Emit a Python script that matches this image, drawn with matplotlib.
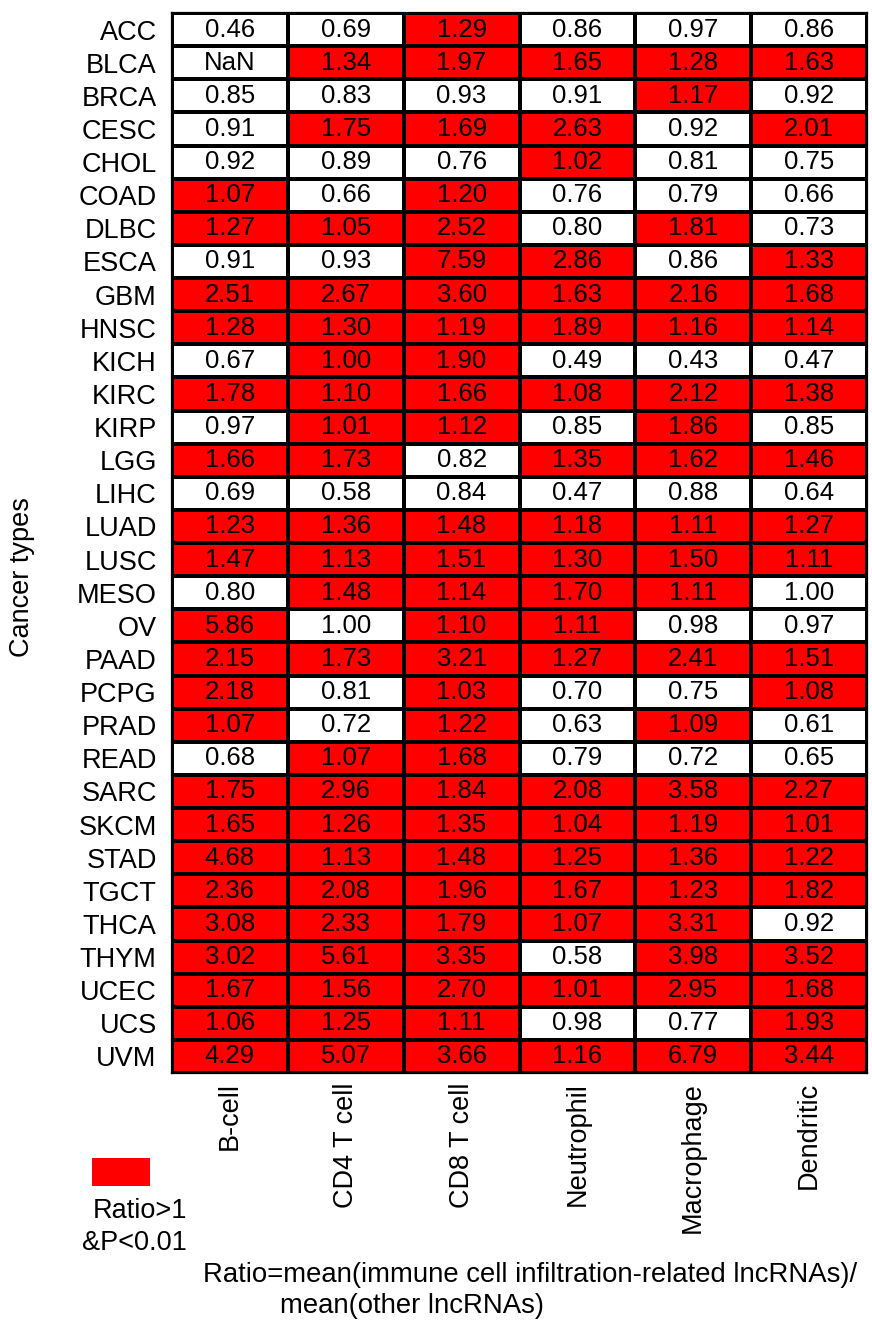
import numpy as np
import matplotlib
matplotlib.use('Agg')
from matplotlib import pyplot as plt
from matplotlib.colors import ListedColormap
from matplotlib.patches import Rectangle

plt.rcParams['font.family'] = ['Liberation Sans', 'DejaVu Sans']

cancers = ['ACC', 'BLCA', 'BRCA', 'CESC', 'CHOL', 'COAD', 'DLBC', 'ESCA',
           'GBM', 'HNSC', 'KICH', 'KIRC', 'KIRP', 'LGG', 'LIHC', 'LUAD',
           'LUSC', 'MESO', 'OV', 'PAAD', 'PCPG', 'PRAD', 'READ', 'SARC',
           'SKCM', 'STAD', 'TGCT', 'THCA', 'THYM', 'UCEC', 'UCS', 'UVM']
cells = ['B-cell', 'CD4 T cell', 'CD8 T cell', 'Neutrophil', 'Macrophage', 'Dendritic']

# ratio of mean expression, one row per cancer type
ratios = [
    [0.46, 0.69, 1.29, 0.86, 0.97, 0.86],
    [np.nan, 1.34, 1.97, 1.65, 1.28, 1.63],
    [0.85, 0.83, 0.93, 0.91, 1.17, 0.92],
    [0.91, 1.75, 1.69, 2.63, 0.92, 2.01],
    [0.92, 0.89, 0.76, 1.02, 0.81, 0.75],
    [1.07, 0.66, 1.20, 0.76, 0.79, 0.66],
    [1.27, 1.05, 2.52, 0.80, 1.81, 0.73],
    [0.91, 0.93, 7.59, 2.86, 0.86, 1.33],
    [2.51, 2.67, 3.60, 1.63, 2.16, 1.68],
    [1.28, 1.30, 1.19, 1.89, 1.16, 1.14],
    [0.67, 1.00, 1.90, 0.49, 0.43, 0.47],
    [1.78, 1.10, 1.66, 1.08, 2.12, 1.38],
    [0.97, 1.01, 1.12, 0.85, 1.86, 0.85],
    [1.66, 1.73, 0.82, 1.35, 1.62, 1.46],
    [0.69, 0.58, 0.84, 0.47, 0.88, 0.64],
    [1.23, 1.36, 1.48, 1.18, 1.11, 1.27],
    [1.47, 1.13, 1.51, 1.30, 1.50, 1.11],
    [0.80, 1.48, 1.14, 1.70, 1.11, 1.00],
    [5.86, 1.00, 1.10, 1.11, 0.98, 0.97],
    [2.15, 1.73, 3.21, 1.27, 2.41, 1.51],
    [2.18, 0.81, 1.03, 0.70, 0.75, 1.08],
    [1.07, 0.72, 1.22, 0.63, 1.09, 0.61],
    [0.68, 1.07, 1.68, 0.79, 0.72, 0.65],
    [1.75, 2.96, 1.84, 2.08, 3.58, 2.27],
    [1.65, 1.26, 1.35, 1.04, 1.19, 1.01],
    [4.68, 1.13, 1.48, 1.25, 1.36, 1.22],
    [2.36, 2.08, 1.96, 1.67, 1.23, 1.82],
    [3.08, 2.33, 1.79, 1.07, 3.31, 0.92],
    [3.02, 5.61, 3.35, 0.58, 3.98, 3.52],
    [1.67, 1.56, 2.70, 1.01, 2.95, 1.68],
    [1.06, 1.25, 1.11, 0.98, 0.77, 1.93],
    [4.29, 5.07, 3.66, 1.16, 6.79, 3.44],
]

# 1 = ratio>1 and P<0.01
significant = [
    '001000', '011111', '000010', '011101', '000100', '101000', '111010', '001101',
    '111111', '111111', '011000', '111111', '011010', '110111', '000000', '111111',
    '111111', '011110', '101100', '111111', '101001', '101010', '011000', '111111',
    '111111', '111111', '111111', '111110', '111011', '111111', '111001', '111111',
]


def main():
    vals = np.array(ratios, dtype=float)
    mask = np.array([[int(c) for c in row] for row in significant])

    fig = plt.figure(figsize=(8.72, 13.2), dpi=100)
    ax = fig.add_axes([172 / 872, 1 - 1073 / 1320, 695 / 872, 1060 / 1320])

    ax.pcolormesh(mask, cmap=ListedColormap(['white', '#ff0000']), vmin=0, vmax=1,
                  edgecolors='black', linewidth=1.6)
    ax.set_xlim(0, len(cells))
    ax.set_ylim(len(cancers), 0)

    for i in range(len(cancers)):
        for j in range(len(cells)):
            v = vals[i, j]
            label = 'NaN' if np.isnan(v) else '%.2f' % v
            ax.text(j + 0.5, i + 0.5, label, ha='center', va='center',
                    fontsize=18.5, color='black')

    ax.set_yticks(np.arange(len(cancers)) + 0.5)
    ax.set_yticklabels(cancers, fontsize=19.5)
    ax.set_xticks(np.arange(len(cells)) + 0.5)
    ax.set_xticklabels(cells, fontsize=19.5, rotation=90)
    ax.tick_params(axis='y', length=0, pad=11)
    ax.tick_params(axis='x', length=0, pad=6.5)
    for side in ax.spines.values():
        side.set_linewidth(1.6)

    fig.text(22 / 872, 1 - 577 / 1320, 'Cancer types', rotation=90,
             ha='center', va='center', fontsize=19.5)

    # legend swatch
    fig.add_artist(Rectangle((92 / 872, 1 - 1186 / 1320), 58 / 872, 28 / 1320,
                             transform=fig.transFigure, facecolor='#ff0000',
                             edgecolor='none'))
    fig.text(187 / 872, 1 - 1218 / 1320, 'Ratio>1', ha='right', va='baseline', fontsize=19.5)
    fig.text(187 / 872, 1 - 1250 / 1320, '&P<0.01', ha='right', va='baseline', fontsize=19.5)

    fig.text(203 / 872, 1 - 1282 / 1320,
             'Ratio=mean(immune cell infiltration-related lncRNAs)/',
             ha='left', va='baseline', fontsize=19.8)
    fig.text(280 / 872, 1 - 1313 / 1320, 'mean(other lncRNAs)',
             ha='left', va='baseline', fontsize=19.8)

    fig.savefig('out.png', dpi=100)


main()
